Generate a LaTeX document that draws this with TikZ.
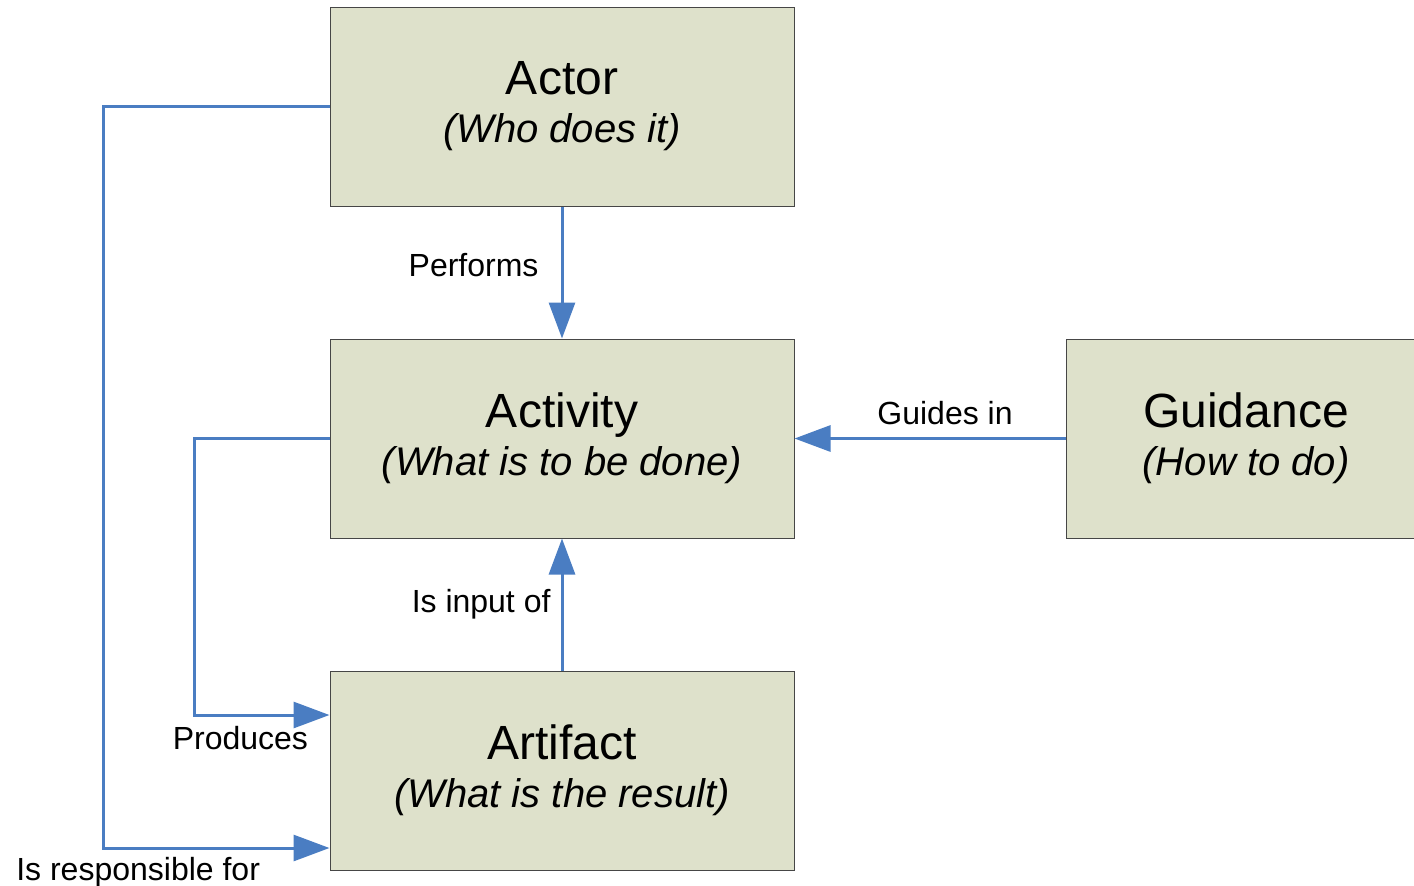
\documentclass[tikz,border=0pt]{standalone}
\usepackage{fontspec}
\setmainfont{Liberation Sans}
\usetikzlibrary{arrows.meta,positioning}
\definecolor{boxfill}{RGB}{222,225,203}
\definecolor{boxline}{RGB}{70,70,70}
\definecolor{linkblue}{RGB}{74,125,194}

\begin{document}
\begin{tikzpicture}[x=0.5pt,y=-0.5pt,->,>={Triangle[length=18pt,width=13pt]}, line width=1.5pt, node distance=166pt]
  \tikzstyle{block}=[draw=boxline, fill=boxfill, line width=0.5pt, minimum width=232pt, minimum height=99.5pt, align=center, inner sep=0pt, font=\fontsize{20}{24}\selectfont]
  \tikzstyle{lbl}=[text=black, inner sep=0pt, font=\fontsize{16}{19}\selectfont]

  \useasboundingbox (0,0) rectangle (1414,885);

  \node[block]           (actor)    at (562,106.5) {{\fontsize{24}{24}\selectfont Actor}\\\textit{(Who does it)}};
  \node[block]           (activity) [below of=actor] {{\fontsize{24}{24}\selectfont Activity}\\\textit{(What is to be done)}};
  \node[block]           (artifact) [below of=activity] {{\fontsize{24}{24}\selectfont Artifact}\\\textit{(What is the result)}};
  \node[block, minimum width=180pt] (guidance) [right of=activity, node distance=342pt] {{\fontsize{24}{24}\selectfont Guidance}\\\textit{(How to do)}};

 \path[linkblue] (actor)    edge node[lbl, left=11pt, yshift=3.75pt] (perf) {Performs} (activity)
 	   (guidance) edge node[lbl, above=6pt, xshift=7.5pt] (guide) {Guides in} (activity)
 	   (artifact) edge node[lbl, left=5pt] (input) {Is input of} (activity);

 \draw[linkblue] (activity.west) -- ++(-135,0) |- ([yshift=27.75pt]artifact.west)
 	   node[lbl, anchor=north east, xshift=-10pt, yshift=-5pt] (prod) {Produces};
 \draw[linkblue] (actor.west) -- ++(-226,0) |- ([yshift=-38.75pt]artifact.west)
 	   node[lbl, anchor=north east, xshift=-34pt, yshift=-4pt] (resp) {Is responsible for};
\end{tikzpicture}
\end{document}
